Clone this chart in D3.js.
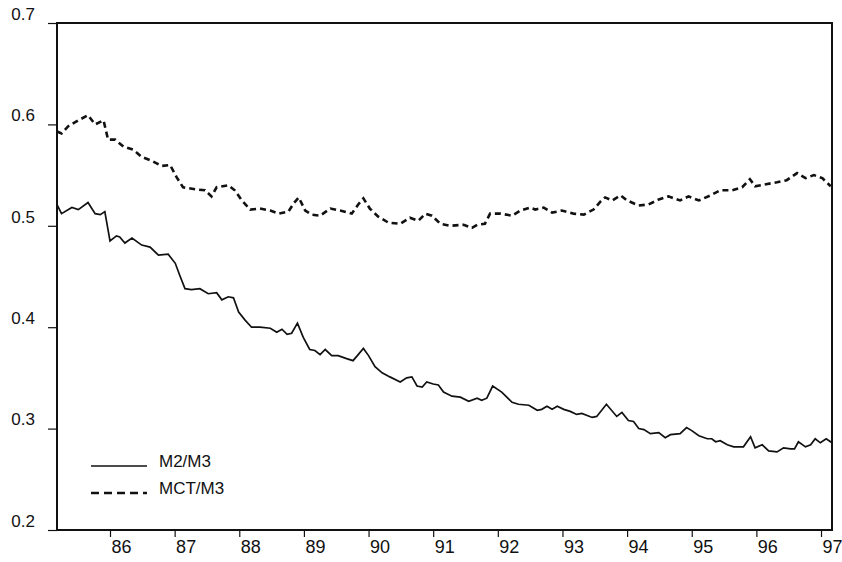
<!DOCTYPE html>
<html>
<head>
<meta charset="utf-8">
<script src="https://cdn.jsdelivr.net/npm/d3@7"></script>
<style>
  body { margin: 0; background: #fff; }
  svg { display: block; }
  .tick text { font-family: "Liberation Sans", Arial, sans-serif; fill: #111; }
</style>
</head>
<body>
<div id="chart"></div>
<script>
// data (decimal years, ratios)
var m2Years = [85.18,85.25,85.41,85.51,85.66,85.77,85.85,85.92,86.00,86.10,86.15,86.23,86.34,86.49,86.62,86.75,86.90,
  87.01,87.08,87.16,87.26,87.39,87.52,87.65,87.73,87.83,87.91,87.99,88.09,88.19,88.32,88.48,88.58,88.66,88.74,88.81,
  88.90,88.99,89.09,89.17,89.25,89.33,89.43,89.53,89.66,89.76,89.84,89.92,90.00,90.10,90.21,90.33,90.49,90.59,90.67,
  90.75,90.83,90.90,91.00,91.08,91.16,91.29,91.42,91.55,91.68,91.75,91.83,91.92,92.06,92.22,92.32,92.48,92.61,92.68,
  92.76,92.84,92.92,93.02,93.12,93.22,93.30,93.46,93.53,93.68,93.84,93.92,94.02,94.10,94.18,94.26,94.36,94.49,94.59,
  94.67,94.82,94.92,95.00,95.11,95.24,95.31,95.37,95.44,95.55,95.65,95.80,95.91,95.98,96.09,96.19,96.32,96.42,96.53,
  96.59,96.65,96.76,96.84,96.91,96.99,97.08,97.17];
var m2Values = [.521,.512,.518,.516,.523,.512,.511,.514,.485,.490,.489,.483,.488,.481,.479,.471,.472,
  .463,.451,.438,.437,.438,.433,.434,.427,.430,.429,.415,.407,.400,.400,.399,.395,.398,.393,.394,
  .404,.390,.378,.377,.373,.378,.372,.372,.369,.367,.373,.379,.372,.361,.355,.351,.346,.350,.351,
  .342,.341,.346,.344,.343,.336,.332,.331,.327,.330,.328,.330,.342,.336,.326,.324,.323,.318,.319,
  .322,.319,.322,.319,.317,.314,.315,.311,.312,.324,.312,.316,.308,.307,.300,.299,.295,.296,.291,
  .294,.295,.301,.298,.293,.290,.290,.287,.288,.284,.282,.282,.292,.281,.284,.278,.277,.281,.280,
  .280,.287,.282,.284,.290,.286,.290,.286];

var mctYears = [85.18,85.25,85.35,85.51,85.66,85.77,85.90,85.97,86.08,86.21,86.36,86.49,86.65,86.80,86.93,
  87.03,87.13,87.32,87.47,87.57,87.65,87.83,87.93,88.04,88.17,88.32,88.48,88.61,88.76,88.84,88.92,
  89.02,89.12,89.25,89.41,89.56,89.74,89.84,89.92,90.02,90.15,90.31,90.49,90.64,90.77,90.88,90.98,
  91.11,91.26,91.47,91.60,91.68,91.80,91.88,92.04,92.22,92.35,92.50,92.58,92.71,92.84,92.99,
  93.17,93.33,93.48,93.59,93.66,93.77,93.90,94.00,94.18,94.33,94.49,94.64,94.82,94.95,
  95.11,95.29,95.44,95.62,95.78,95.90,95.98,96.15,96.32,96.47,96.63,96.76,96.89,97.02,97.15];
var mctValues = [.593,.591,.598,.604,.609,.600,.604,.585,.585,.578,.575,.568,.564,.559,.560,
  .548,.538,.536,.535,.529,.538,.540,.535,.525,.516,.517,.515,.512,.514,.522,.528,
  .515,.511,.510,.517,.515,.512,.521,.527,.517,.509,.503,.502,.508,.505,.512,.510,
  .502,.500,.501,.498,.501,.502,.512,.512,.510,.515,.518,.516,.518,.513,.515,
  .512,.511,.516,.524,.528,.525,.530,.525,.520,.521,.526,.529,.525,.529,
  .525,.530,.535,.535,.538,.546,.539,.541,.543,.545,.552,.547,.550,.547,.539];

var yTicks = [0.2, 0.3, 0.4, 0.5, 0.6, 0.7];
var xTicks = [86, 87, 88, 89, 90, 91, 92, 93, 94, 95, 96, 97];
var seriesNames = ["M2/M3", "MCT/M3"];

var svgWidth = 842;
var svgHeight = 562;
var margin = { top: 23, right: 10, bottom: 32, left: 57 };
var width = svgWidth - margin.left - margin.right;
var height = svgHeight - margin.top - margin.bottom;

var svg = d3.select("#chart")
  .append("svg")
  .attr("width", svgWidth)
  .attr("height", svgHeight);

var chartGroup = svg.append("g")
  .attr("transform", `translate(${margin.left}, ${margin.top})`);

var xScale = d3.scaleLinear().domain([85.18, 97.17]).range([0, width]);
var yScale = d3.scaleLinear().domain([0.2, 0.7]).range([height, 0]);

// axes
var leftAxis = d3.axisLeft(yScale)
  .tickValues(yTicks)
  .tickSize(9)
  .tickPadding(13)
  .tickFormat(d3.format(".1f"));

var bottomAxis = d3.axisBottom(xScale)
  .tickValues(xTicks)
  .tickSize(7)
  .tickPadding(3)
  .tickFormat(d => d);

var yAxisG = chartGroup.append("g").call(leftAxis);
yAxisG.select(".domain").remove();
yAxisG.selectAll(".tick line").attr("stroke", "#111").attr("stroke-width", 1.2);
yAxisG.selectAll(".tick text")
  .attr("font-size", "17px")
  .attr("dy", "-0.22em");

var xAxisG = chartGroup.append("g")
  .attr("transform", `translate(0, ${height})`)
  .call(bottomAxis);
xAxisG.select(".domain").remove();
xAxisG.selectAll(".tick line").attr("stroke", "#111").attr("stroke-width", 1.2);
xAxisG.selectAll(".tick text")
  .attr("font-size", "18px")
  .attr("dx", "11px");

// frame
chartGroup.append("rect")
  .attr("width", width)
  .attr("height", height)
  .attr("fill", "none")
  .attr("stroke", "#111")
  .attr("stroke-width", 2);

var line = d3.line()
  .x(d => xScale(d[0]))
  .y(d => yScale(d[1]));

var m2Data = d3.zip(m2Years, m2Values);
var mctData = d3.zip(mctYears, mctValues);

chartGroup.append("path")
  .datum(m2Data)
  .attr("d", line)
  .attr("fill", "none")
  .attr("stroke", "#111")
  .attr("stroke-width", 1.7);

chartGroup.append("path")
  .datum(mctData)
  .attr("d", line)
  .attr("fill", "none")
  .attr("stroke", "#111")
  .attr("stroke-width", 2.6)
  .attr("stroke-dasharray", "6,4");

// legend
var legend = svg.append("g").attr("transform", "translate(91, 466)");
seriesNames.forEach((name, i) => {
  var row = legend.append("g").attr("transform", `translate(0, ${i * 27})`);
  row.append("line")
    .attr("x1", 0).attr("x2", 56)
    .attr("stroke", "#111")
    .attr("stroke-width", i === 0 ? 1.4 : 2.6)
    .attr("stroke-dasharray", i === 0 ? null : "8,5");
  row.append("text")
    .attr("x", 68)
    .attr("y", 1)
    .attr("font-family", "Liberation Sans, Arial, sans-serif")
    .attr("font-size", "17px")
    .attr("fill", "#111")
    .text(name);
});
</script>
</body>
</html>
